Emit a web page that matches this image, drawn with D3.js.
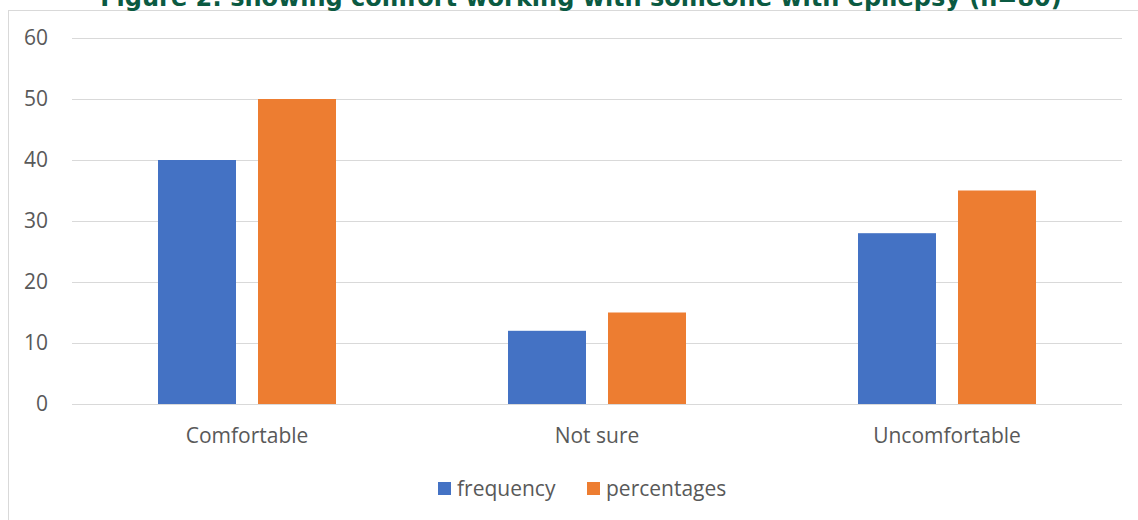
<!DOCTYPE html>
<html>
<head>
<meta charset="utf-8">
<script src="https://cdn.jsdelivr.net/npm/d3@7"></script>
<style>
    body { margin: 0; background: #fff; }
    #chart text { font-family: "Open Sans", sans-serif; fill: #595959; }
</style>
</head>
<body>
<div id="chart"></div>
<script>
const categories = ["Comfortable", "Not sure", "Uncomfortable"];
const seriesNames = ["frequency", "percentages"];
const frequency = [40, 12, 28];
const percentages = [50, 15, 35];
const yTicks = [0, 10, 20, 30, 40, 50, 60];
const titleText = "Figure 2: showing comfort working with someone with epilepsy (n=80)";

const width = 1138, height = 520;
const plotLeft = 72, plotRight = 1122, plotTop = 38, plotBottom = 404;
const colors = ["#4472c4", "#ed7d31"];
const labelSize = "21px";

const svg = d3.select("#chart")
    .append("svg")
    .attr("width", width)
    .attr("height", height);

// chart frame, runs off the right and bottom edges like the original
svg.append("rect")
    .attr("x", 8.5)
    .attr("y", 10.5)
    .attr("width", width + 20)
    .attr("height", height + 20)
    .attr("fill", "none")
    .attr("stroke", "#d9d9d9");

// title, clipped at the top
svg.append("text")
    .attr("x", 581)
    .attr("y", 6)
    .attr("text-anchor", "middle")
    .style("font-family", "'DejaVu Sans', sans-serif")
    .style("font-weight", "bold")
    .style("font-size", "24px")
    .style("fill", "#0b5a42")
    .text(titleText);

const data = categories.map((c, i) => ({
    category: c,
    values: [frequency[i], percentages[i]]
}));

const x0 = d3.scaleBand().domain(categories).range([plotLeft, plotRight]).padding(0);
const groupWidth = 178;
const x1 = d3.scaleBand().domain(seriesNames)
    .range([0, groupWidth])
    .paddingInner(0.22)
    .paddingOuter(0);
const y = d3.scaleLinear().domain([0, 60]).range([plotBottom, plotTop]);

// gridlines + y labels
const yAxis = d3.axisLeft(y)
    .tickValues(yTicks)
    .tickSize(-(plotRight - plotLeft))
    .tickPadding(24);
const gy = svg.append("g")
    .attr("transform", "translate(" + plotLeft + ",0)")
    .call(yAxis);
gy.select(".domain").remove();
gy.selectAll(".tick line").attr("stroke", "#d9d9d9").attr("stroke-width", 1);
gy.selectAll(".tick text").style("font-size", labelSize);

// bars
const groups = svg.selectAll("g.group")
    .data(data)
    .enter().append("g")
    .attr("class", "group")
    .attr("transform", d => "translate(" + (x0(d.category) + (x0.bandwidth() - groupWidth) / 2) + ",0)");

groups.selectAll("rect")
    .data(d => d.values.map((v, i) => ({ name: seriesNames[i], value: v, i: i })))
    .enter().append("rect")
    .attr("x", d => x1(d.name))
    .attr("y", d => y(d.value))
    .attr("width", x1.bandwidth())
    .attr("height", d => y(0) - y(d.value))
    .attr("fill", d => colors[d.i]);

// baseline
svg.append("line")
    .attr("x1", plotLeft).attr("x2", plotRight)
    .attr("y1", y(0) + 0.5).attr("y2", y(0) + 0.5)
    .attr("stroke", "#d9d9d9");

// category labels
const xAxis = d3.axisBottom(x0).tickSize(0).tickPadding(24);
const gx = svg.append("g")
    .attr("transform", "translate(0," + plotBottom + ")")
    .call(xAxis);
gx.select(".domain").remove();
gx.selectAll(".tick text").style("font-size", labelSize);

// legend
const legendX = [438, 587];
const legend = svg.selectAll("g.legend")
    .data(seriesNames)
    .enter().append("g")
    .attr("class", "legend")
    .attr("transform", (d, i) => "translate(" + legendX[i] + ",482)");
legend.append("rect")
    .attr("width", 13)
    .attr("height", 13)
    .attr("fill", (d, i) => colors[i]);
legend.append("text")
    .attr("x", 19)
    .attr("y", 6.5)
    .attr("dy", "0.35em")
    .style("font-size", labelSize)
    .text(d => d);
</script>
</body>
</html>
